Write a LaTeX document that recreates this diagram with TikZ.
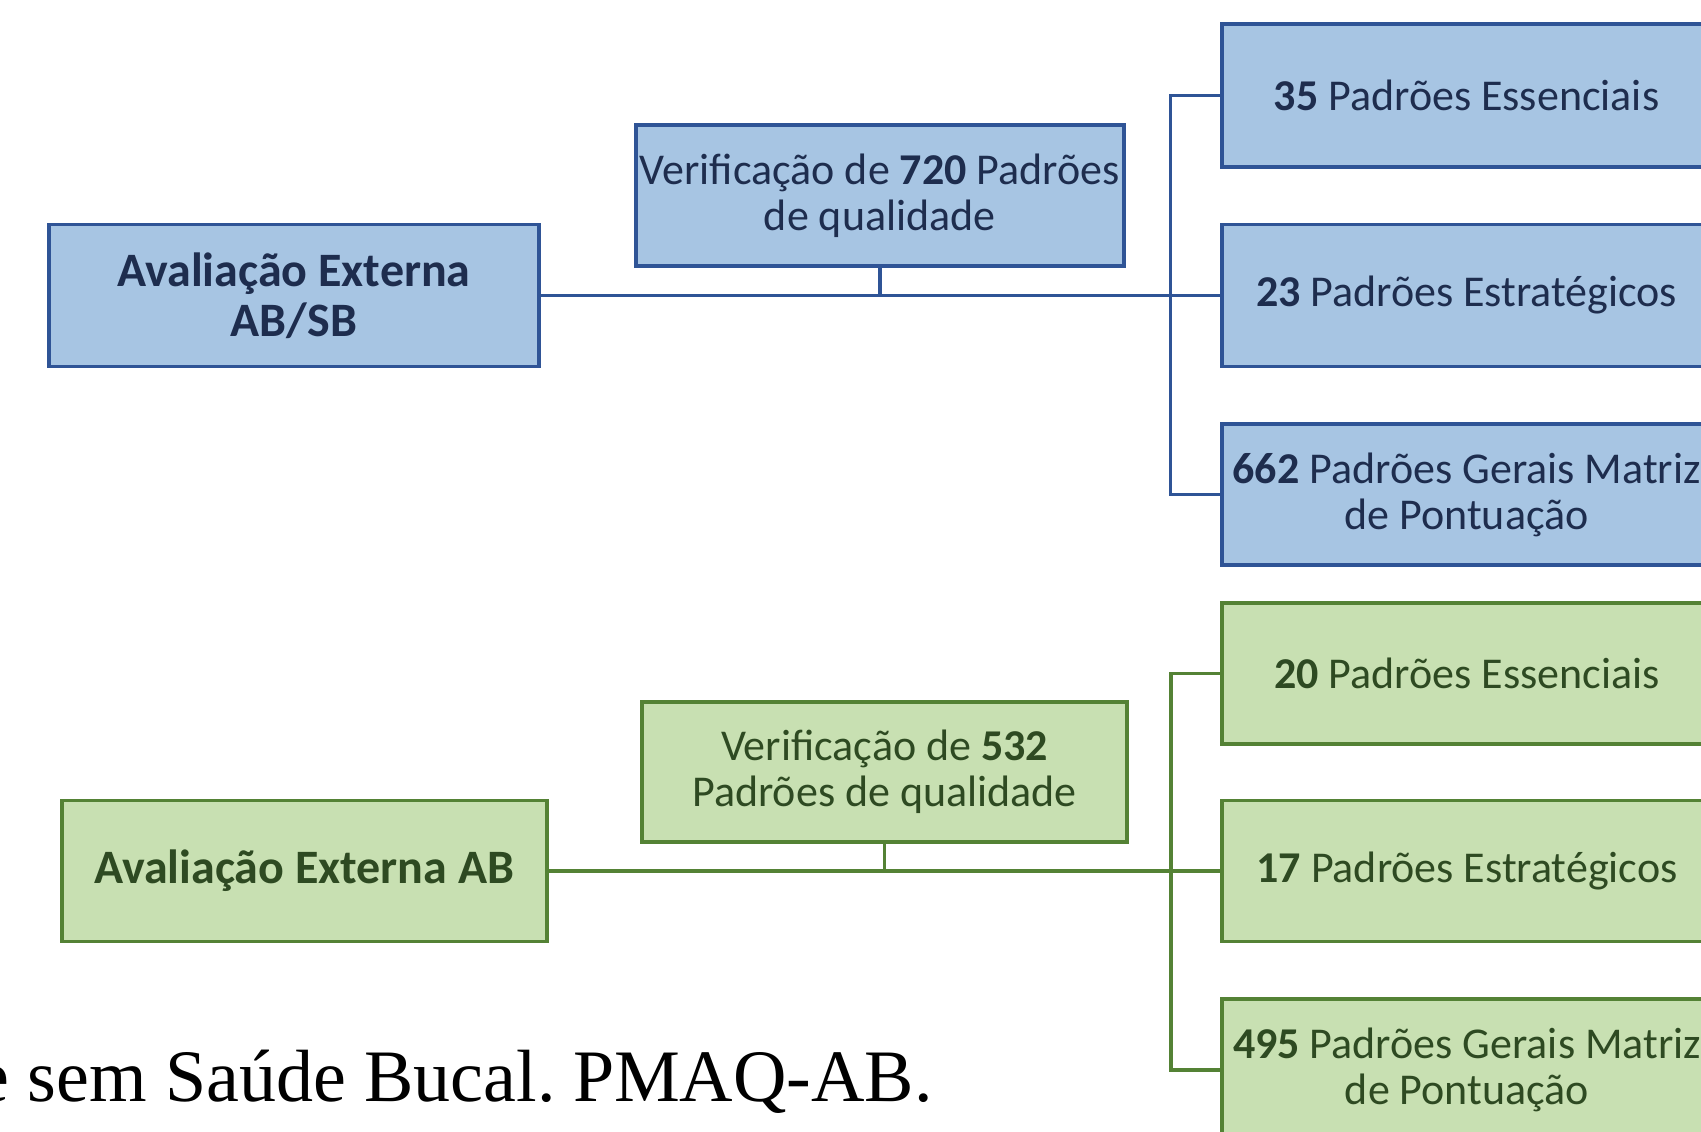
\documentclass[tikz,border=0pt]{standalone}
\usepackage{fontspec}
\setmainfont{Carlito}
\newfontfamily\capfont{Liberation Serif}
\definecolor{bfill}{HTML}{A7C5E3}
\definecolor{bdraw}{HTML}{2F5496}
\definecolor{btext}{HTML}{1E2D4E}
\definecolor{gfill}{HTML}{C8E0B2}
\definecolor{gdraw}{HTML}{548235}
\definecolor{gtext}{HTML}{2E4A22}
\begin{document}
\begin{tikzpicture}[x=1pt,y=-1pt,
  box/.style={rectangle, line width=3.8pt, minimum width=490pt, minimum height=141pt,
    inner sep=0pt, align=center, font=\fontsize{44}{46}\selectfont},
  headbox/.style={font=\bfseries\fontsize{48}{50}\selectfont},
  bluebox/.style={box, draw=bdraw, fill=bfill, text=btext},
  greenbox/.style={box, draw=gdraw, fill=gfill, text=gtext},
  bline/.style={draw=bdraw, line width=3.4pt},
  gline/.style={draw=gdraw, line width=3.4pt}]
\useasboundingbox (0,0) rectangle (1701,1132);
\clip (0,0) rectangle (1701,1132);
\fill[white] (0,0) rectangle (1701,1132);

% ---- blue group ----
\node[bluebox, headbox, minimum width=490pt, minimum height=142pt] (A1) at (294,295.5) {Avaliação Externa\\AB/SB};
\node[bluebox, minimum width=488pt] (V1) at (879.8,195.3) {Verificação de \textbf{720} Padrões\\de qualidade};
\node[bluebox, minimum height=143pt] (E1) at (1466.6,95.5) {\textbf{35} Padrões Essenciais};
\node[bluebox, minimum height=142pt] (S1) at (1466.6,295.5) {\textbf{23} Padrões Estratégicos};
\node[bluebox] (G1) at (1466.6,494.7) {\textbf{662} Padrões Gerais Matriz\\de Pontuação};

\draw[bline] (A1.east) -- (S1.west);
\draw[bline] (V1.south) -- (V1.south |- A1.east);
\draw[bline] (E1.west) -- ++(-49,0) |- (G1.west);

% ---- green group ----
\node[greenbox, headbox, minimum width=485pt] (A2) at (304.2,871) {Avaliação Externa AB};
\node[greenbox, minimum width=485pt, minimum height=140pt] (V2) at (884.6,771.8) {Verificação de \textbf{532}\\Padrões de qualidade};
\node[greenbox] (E2) at (1467,673.6) {\textbf{20} Padrões Essenciais};
\node[greenbox] (S2) at (1467,871) {\textbf{17} Padrões Estratégicos};
\node[greenbox, minimum height=142pt] (G2) at (1467,1070) {\textbf{495} Padrões Gerais Matriz\\de Pontuação};

\draw[gline] (A2.east) -- (S2.west);
\draw[gline] (V2.south) -- (V2.south |- A2.east);
\draw[gline] (E2.west) -- ++(-49,0) |- (G2.west);

% ---- caption fragment ----
\node[anchor=base west, inner sep=0pt, font=\capfont\fontsize{74}{80}\selectfont, text=black] (cap) at (-24,1101) {e sem Saúde Bucal.\hspace{-0.1em} PMAQ-AB.};
\end{tikzpicture}
\end{document}
